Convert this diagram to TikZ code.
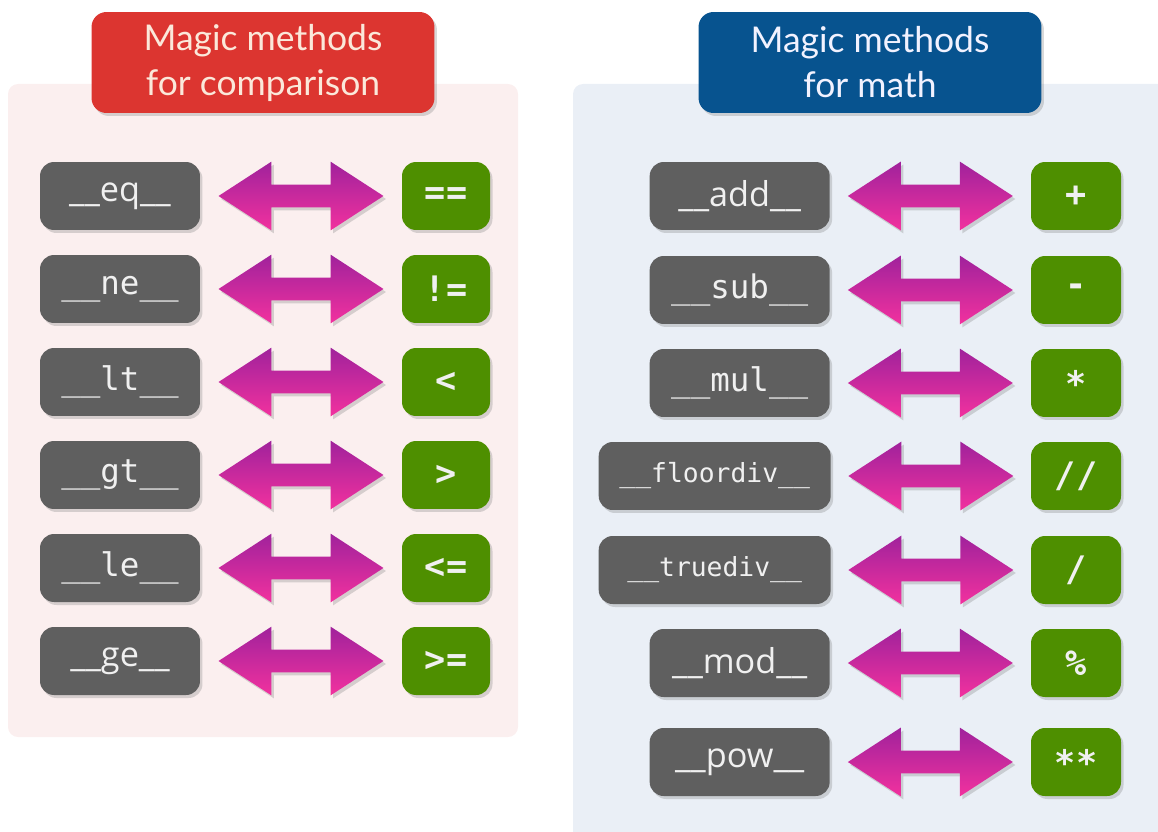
\documentclass[tikz,border=0pt]{standalone}
\usepackage{fontspec}
\usepackage{tikz}
\usetikzlibrary{shapes.arrows,shadows,positioning}
\usepackage{xcolor}

\newfontfamily\titlefont{Lato}
\newfontfamily\codefont{DejaVu Sans Mono}
\newfontfamily\namefont{Open Sans}

\definecolor{cmpred}{HTML}{DC3530}
\definecolor{mathblue}{HTML}{07538F}
\definecolor{cmpbg}{HTML}{FBEFEF}
\definecolor{mathbg}{HTML}{EAEFF6}
\definecolor{methodgray}{HTML}{5F5F5F}
\definecolor{opgreen}{HTML}{4E8F00}
\definecolor{arrowtop}{HTML}{A0229C}
\definecolor{arrowbot}{HTML}{F2319E}
\definecolor{titlecream}{HTML}{FBE8DA}

\begin{document}
\begin{tikzpicture}[
    x=0.02cm, y=-0.02cm,
    shadowed/.style={drop shadow={shadow xshift=0.05cm, shadow yshift=-0.06cm, opacity=0.3}},
    title/.style={rectangle, rounded corners=0.3cm, shadowed, minimum width=6.86cm,
                  minimum height=2.02cm, align=center,
                  font=\titlefont\fontsize{20.2}{25.6}\selectfont},
    method/.style={rectangle, rounded corners=0.28cm, fill=methodgray, shadowed,
                   text=white!94!black, minimum width=3.2cm, minimum height=1.36cm,
                   font=\codefont\fontsize{18.5}{20}\selectfont},
    methodsans/.style={method, font=\namefont\fontsize{19.5}{20}\selectfont},
    longmethod/.style={method, minimum width=4.64cm, font=\codefont\fontsize{15}{18}\selectfont},
    op/.style={rectangle, rounded corners=0.28cm, fill=opgreen, shadowed,
               text=white!94!black, minimum width=1.76cm, minimum height=1.36cm,
               font=\codefont\bfseries\fontsize{20}{22}\selectfont},
    dblarrow/.style={double arrow, double arrow head extend=0.46cm,
                     double arrow tip angle=66, minimum width=1.36cm,
                     minimum height=3.3cm, inner xsep=0pt, inner ysep=0.22cm,
                     draw=none, top color=arrowtop, bottom color=arrowbot, shadowed}
]
\useasboundingbox (0,0) rectangle (1158,831);

% --- panels ---
\fill[cmpbg, rounded corners=0.2cm] (8,84) rectangle (518,737);
\begin{scope}
  \clip (0,0) rectangle (1158,831);
  \fill[mathbg, rounded corners=0.2cm] (573,84) rectangle (1200,880);
\end{scope}

% --- titles ---
\node[title, fill=cmpred, text=titlecream] (cmptitle) at (263,62.5) {Magic methods\\for comparison};
\node[title, fill=mathblue, text=white!95!blue] (mathtitle) at (870,62.5) {Magic methods\\for math};

% --- Left: comparison ---
\node[methodsans] (eq) at (120,196) {\_\_eq\_\_};
\node[method] (ne) at (120,289) {\_\_ne\_\_};
\node[method] (lt) at (120,382) {\_\_lt\_\_};
\node[method] (gt) at (120,475) {\_\_gt\_\_};
\node[method] (le) at (120,568) {\_\_le\_\_};
\node[methodsans] (ge) at (120,661) {\_\_ge\_\_};

\node[op] (eqop) at (446,196) {==};
\node[op] (neop) at (446,289) {!=};
\node[op] (ltop) at (446,382) {<};
\node[op] (gtop) at (446,475) {>};
\node[op] (leop) at (446,568) {<=};
\node[op] (geop) at (446,661) {>=};

% --- Right: math ---
\node[methodsans, minimum width=3.6cm, anchor=east] (add) at (830,196) {\_\_add\_\_};
\node[method, minimum width=3.6cm, anchor=east] (sub) at (830,290) {\_\_sub\_\_};
\node[method, minimum width=3.6cm, anchor=east] (mul) at (830,383) {\_\_mul\_\_};
\node[longmethod, anchor=east] (floordiv) at (831,476) {\_\_floordiv\_\_};
\node[longmethod, anchor=east] (truediv) at (831,570) {\_\_truediv\_\_};
\node[methodsans, minimum width=3.6cm, anchor=east] (mod) at (830,663) {\_\_mod\_\_};
\node[methodsans, minimum width=3.6cm, anchor=east] (pow) at (830,762) {\_\_pow\_\_};

\node[op, minimum width=1.8cm] (addop) at (1076,196) {+};
\node[op, minimum width=1.8cm] (subop) at (1076,290) {-};
\node[op, minimum width=1.8cm] (mulop) at (1076,383) {*};
\node[op, minimum width=1.8cm] (floordivop) at (1076,476) {//};
\node[op, minimum width=1.8cm] (truedivop) at (1076,570) {/};
\node[op, minimum width=1.8cm] (modop) at (1076,663) {\%};
\node[op, minimum width=1.8cm] (powop) at (1076,762) {**};

% arrows
\path (eq) -- node[dblarrow] {} (eqop);
\path (ne) -- node[dblarrow] {} (neop);
\path (lt) -- node[dblarrow] {} (ltop);
\path (gt) -- node[dblarrow] {} (gtop);
\path (le) -- node[dblarrow] {} (leop);
\path (ge) -- node[dblarrow] {} (geop);
\path (add) -- node[dblarrow] {} (addop);
\path (sub) -- node[dblarrow] {} (subop);
\path (mul) -- node[dblarrow] {} (mulop);
\path (floordiv) -- node[dblarrow] {} (floordivop);
\path (truediv) -- node[dblarrow] {} (truedivop);
\path (mod) -- node[dblarrow] {} (modop);
\path (pow) -- node[dblarrow] {} (powop);

\end{tikzpicture}
\end{document}
